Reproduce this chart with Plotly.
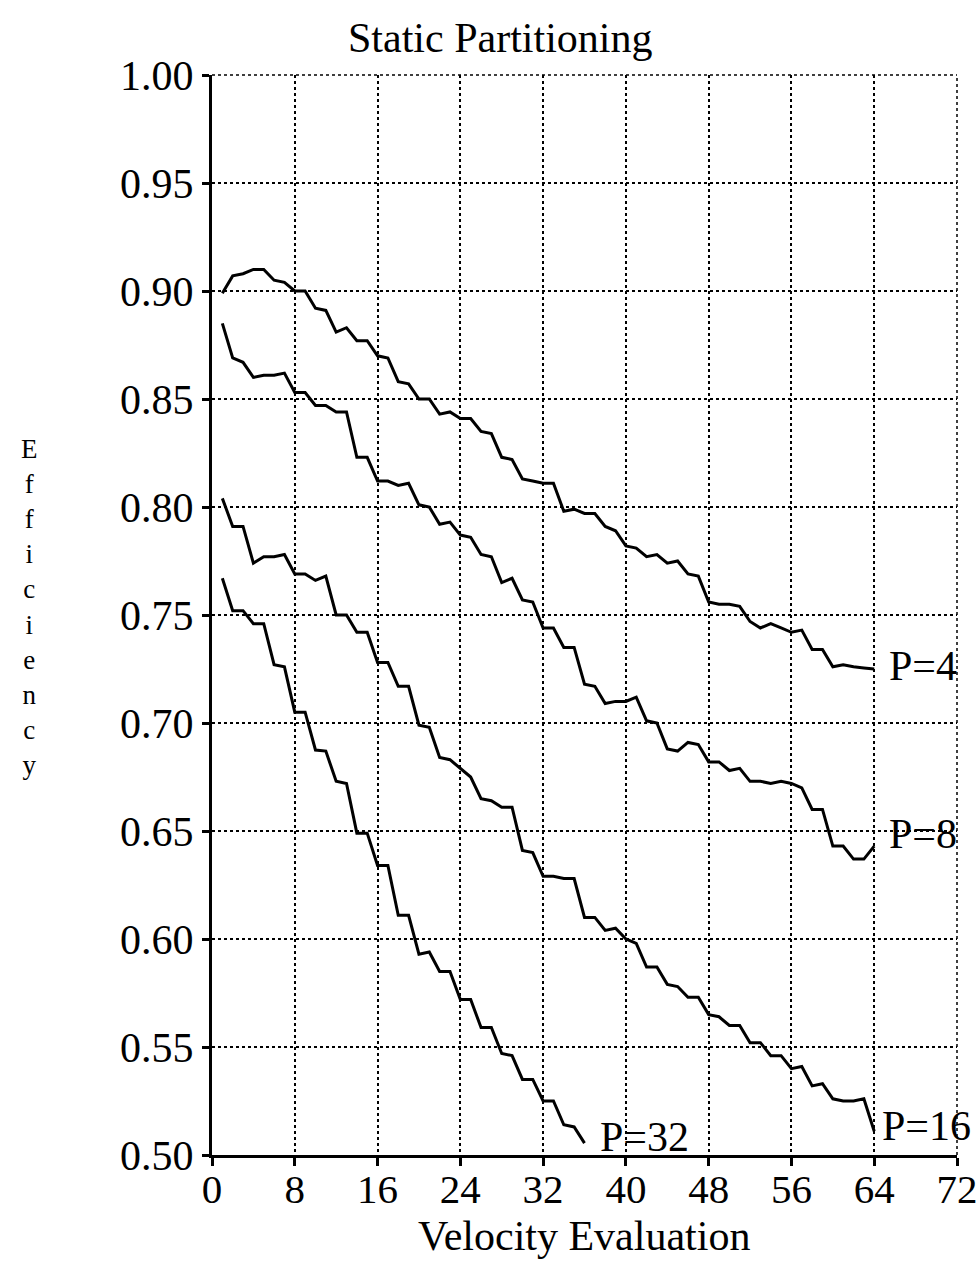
import plotly.graph_objects as go

x_p4 = list(range(1, 65))
y_p4 = [0.899, 0.907, 0.908, 0.910, 0.910, 0.905, 0.904, 0.900, 0.900, 0.892,
        0.891, 0.881, 0.883, 0.877, 0.877, 0.870, 0.869, 0.858, 0.857, 0.850,
        0.850, 0.843, 0.844, 0.841, 0.841, 0.835, 0.834, 0.823, 0.822, 0.813,
        0.812, 0.811, 0.811, 0.798, 0.799, 0.797, 0.797, 0.791, 0.789, 0.782,
        0.781, 0.777, 0.778, 0.774, 0.775, 0.769, 0.768, 0.756, 0.755, 0.755,
        0.754, 0.747, 0.744, 0.746, 0.744, 0.742, 0.743, 0.734, 0.734, 0.726,
        0.727, 0.726, 0.7255, 0.725]

x_p8 = list(range(1, 65))
y_p8 = [0.885, 0.869, 0.867, 0.860, 0.861, 0.861, 0.862, 0.853, 0.853, 0.847,
        0.847, 0.844, 0.844, 0.823, 0.823, 0.812, 0.812, 0.810, 0.811, 0.801,
        0.800, 0.792, 0.793, 0.787, 0.786, 0.778, 0.777, 0.765, 0.767, 0.757,
        0.756, 0.744, 0.744, 0.735, 0.735, 0.718, 0.717, 0.709, 0.710, 0.710,
        0.712, 0.701, 0.700, 0.688, 0.687, 0.691, 0.690, 0.682, 0.682, 0.678,
        0.679, 0.673, 0.673, 0.672, 0.673, 0.672, 0.670, 0.660, 0.660, 0.643,
        0.643, 0.637, 0.637, 0.643]

x_p16 = list(range(1, 65))
y_p16 = [0.804, 0.791, 0.791, 0.774, 0.777, 0.777, 0.778, 0.769, 0.769, 0.766,
         0.768, 0.750, 0.750, 0.742, 0.742, 0.728, 0.728, 0.717, 0.717, 0.699,
         0.698, 0.684, 0.683, 0.679, 0.675, 0.665, 0.664, 0.661, 0.661, 0.641,
         0.640, 0.629, 0.629, 0.628, 0.628, 0.610, 0.610, 0.604, 0.605, 0.600,
         0.598, 0.587, 0.587, 0.579, 0.578, 0.573, 0.573, 0.565, 0.564, 0.560,
         0.560, 0.552, 0.552, 0.546, 0.546, 0.540, 0.541, 0.532, 0.533, 0.526,
         0.525, 0.525, 0.526, 0.511]

x_p32 = list(range(1, 37))
y_p32 = [0.767, 0.752, 0.752, 0.746, 0.746, 0.727, 0.726, 0.705, 0.705, 0.6875,
         0.687, 0.673, 0.672, 0.649, 0.649, 0.634, 0.634, 0.611, 0.611, 0.593,
         0.594, 0.585, 0.585, 0.572, 0.572, 0.559, 0.559, 0.547, 0.546, 0.535,
         0.535, 0.525, 0.525, 0.514, 0.513, 0.5055]

labels = ["P=4", "P=8", "P=16", "P=32"]
label_x = [65.2, 65.2, 64.6, 37.3]
label_y = [0.7265, 0.6485, 0.5135, 0.5085]

x_ticks = [0, 8, 16, 24, 32, 40, 48, 56, 64, 72]
y_ticks = [0.50, 0.55, 0.60, 0.65, 0.70, 0.75, 0.80, 0.85, 0.90, 0.95, 1.00]

FONT = "Liberation Serif, Times New Roman, serif"
W, H = 980, 1261
ML, MR, MT, MB = 212, 23, 75, 106
PW, PH = W - ML - MR, H - MT - MB

def px_to_paper_x(px):
    return (px - ML) / PW

def px_to_paper_y(py):
    return (H - MB - py) / PH

fig = go.Figure()
for xs, ys in [(x_p4, y_p4), (x_p8, y_p8), (x_p16, y_p16), (x_p32, y_p32)]:
    fig.add_trace(go.Scatter(x=xs, y=ys, mode="lines",
                             line=dict(color="black", width=3),
                             showlegend=False, hoverinfo="skip"))

for t, lx, ly in zip(labels, label_x, label_y):
    fig.add_annotation(x=lx, y=ly, text=t, showarrow=False, xanchor="left",
                       yanchor="middle", font=dict(family=FONT, size=42, color="black"))

fig.add_annotation(xref="paper", yref="paper", x=px_to_paper_x(500), y=px_to_paper_y(38),
                   text="Static Partitioning", showarrow=False, xanchor="center",
                   yanchor="middle", font=dict(family=FONT, size=42, color="black"))
fig.add_annotation(xref="paper", yref="paper", x=px_to_paper_x(584), y=px_to_paper_y(1261),
                   text="Velocity Evaluation", showarrow=False, xanchor="center",
                   yanchor="bottom", font=dict(family=FONT, size=42, color="black"))
fig.add_annotation(xref="paper", yref="paper", x=px_to_paper_x(29), y=px_to_paper_y(607),
                   text="<br>".join(list("Efficiency")), showarrow=False,
                   xanchor="center", yanchor="middle",
                   font=dict(family=FONT, size=27, color="black"))

# dotted frame lines at top and right edges (grid lines at range ends)
fig.add_shape(type="line", xref="paper", yref="paper", x0=0, x1=1, y0=1, y1=1,
              line=dict(color="black", width=1.5, dash="dot"))
fig.add_shape(type="line", xref="paper", yref="paper", x0=1, x1=1, y0=0, y1=1,
              line=dict(color="black", width=1.5, dash="dot"))

fig.update_xaxes(range=[0, 72], tickvals=x_ticks, ticktext=[str(v) for v in x_ticks],
                 showline=True, linecolor="black", linewidth=3, automargin=False,
                 ticks="outside", ticklen=8, tickwidth=3, tickcolor="black",
                 ticklabelstandoff=-12,
                 showgrid=True, gridcolor="black", gridwidth=1.5, griddash="dot",
                 zeroline=False, tickfont=dict(family=FONT, size=41, color="black"))
fig.update_yaxes(range=[0.5, 1.0], tickvals=y_ticks, ticktext=[f"{v:.2f}" for v in y_ticks],
                 showline=True, linecolor="black", linewidth=3, automargin=False,
                 ticks="outside", ticklen=7, tickwidth=3, tickcolor="black",
                 showgrid=True, gridcolor="black", gridwidth=1.5, griddash="dot",
                 zeroline=False, tickfont=dict(family=FONT, size=42, color="black"))

fig.update_layout(width=W, height=H, margin=dict(l=ML, r=MR, t=MT, b=MB),
                  plot_bgcolor="white", paper_bgcolor="white")

fig.write_html("out.html")
